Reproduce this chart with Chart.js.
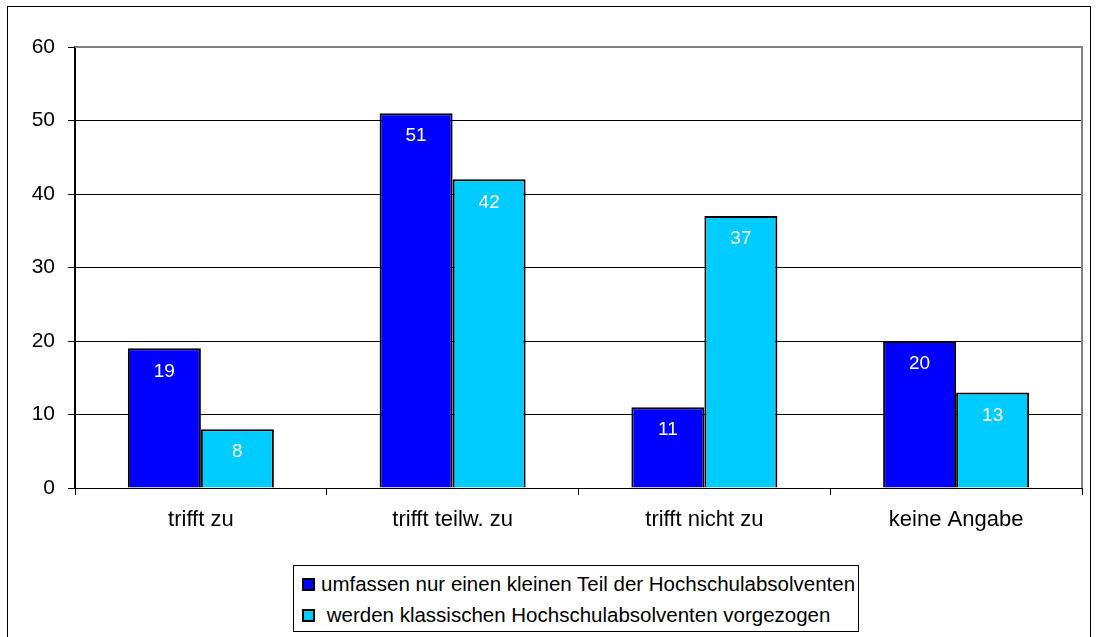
<!DOCTYPE html>
<html lang="de">
<head>
    <meta charset="UTF-8">
    <title>Hochschulabsolventen</title>
    <script src="https://cdn.jsdelivr.net/npm/chart.js"></script>
    <style>
        body {
            margin: 0;
            width: 1096px;
            height: 637px;
            overflow: hidden;
            background: #fff;
            font-family: "Liberation Sans", Arial, sans-serif;
        }
        .frame {
            position: absolute;
            left: 7px;
            top: 6px;
            width: 1082px;
            height: 700px;
            border: 1px solid #000;
        }
        #chart {
            position: absolute;
            left: 0;
            top: 0;
        }
        .legend {
            position: absolute;
            left: 293px;
            top: 565px;
            width: 564px;
            height: 65px;
            border: 1px solid #000;
            font-size: 20.5px;
            color: #000;
        }
        .legend div {
            position: absolute;
            left: 8px;
            white-space: pre;
            line-height: 24px;
        }
        .legend span.box {
            display: inline-block;
            width: 9px;
            height: 9px;
            border: 2px solid #000;
            margin-right: 6px;
            vertical-align: 0px;
        }
    </style>
</head>
<body>

<div class="frame"></div>
<canvas id="chart" width="1096" height="560"></canvas>
<div class="legend" id="legend"></div>

<script>
// data
const categories = ["trifft zu", "trifft teilw. zu", "trifft nicht zu", "keine Angabe"];
const seriesNames = ["umfassen nur einen kleinen Teil der Hochschulabsolventen", " werden klassischen Hochschulabsolventen vorgezogen"];
const seriesA = [19, 51, 11, 20];
const seriesB = [8, 42, 37, 13];
const yTicks = [0, 10, 20, 30, 40, 50, 60];

const colors = ["#0000FF", "#00CCFF"];
const fontFamily = '"Liberation Sans", Arial, sans-serif';

// white value labels inside the top of each bar
const barLabels = {
    id: 'barLabels',
    afterDatasetsDraw(chart) {
        const ctx = chart.ctx;
        ctx.save();
        ctx.fillStyle = '#fff';
        ctx.font = '19px ' + fontFamily;
        ctx.textAlign = 'center';
        ctx.textBaseline = 'middle';
        chart.data.datasets.forEach((ds, i) => {
            chart.getDatasetMeta(i).data.forEach((bar, j) => {
                ctx.fillText(ds.data[j], bar.x, bar.y + 23);
            });
        });
        ctx.restore();
    }
};

// grey top and right edge of the plot area
const plotEdge = {
    id: 'plotEdge',
    beforeDatasetsDraw(chart) {
        const a = chart.chartArea;
        const ctx = chart.ctx;
        ctx.save();
        ctx.strokeStyle = '#808080';
        ctx.lineWidth = 2;
        ctx.beginPath();
        ctx.moveTo(a.left, a.top);
        ctx.lineTo(a.right, a.top);
        ctx.lineTo(a.right, a.bottom);
        ctx.stroke();
        ctx.restore();
    }
};

const ctx = document.getElementById('chart').getContext('2d');
new Chart(ctx, {
    type: 'bar',
    data: {
        labels: categories,
        datasets: [
            { label: seriesNames[0], data: seriesA, backgroundColor: colors[0], borderColor: '#000', borderWidth: 2 },
            { label: seriesNames[1], data: seriesB, backgroundColor: colors[1], borderColor: '#000', borderWidth: 2 }
        ]
    },
    options: {
        responsive: false,
        animation: false,
        layout: { padding: { left: 0, top: 47, right: 14, bottom: 0 } },
        plugins: {
            legend: { display: false },
            tooltip: { enabled: false }
        },
        datasets: {
            bar: { categoryPercentage: 0.58, barPercentage: 1.0 }
        },
        scales: {
            x: {
                grid: { drawOnChartArea: false, drawTicks: true, tickLength: 7, color: '#000', offset: true },
                border: { color: '#000', width: 1 },
                ticks: { color: '#000', padding: 12, font: { size: 22, family: fontFamily } },
                afterFit(scale) { scale.height = 72; }
            },
            y: {
                min: 0,
                max: 60,
                afterBuildTicks(scale) { scale.ticks = yTicks.map(v => ({ value: v })); },
                grid: {
                    color: c => c.tick && c.tick.value === 60 ? '#808080' : '#000',
                    tickColor: '#000',
                    tickLength: 7,
                    lineWidth: 1
                },
                border: { color: '#000', width: 2 },
                ticks: { color: '#000', padding: 13, font: { size: 21, family: fontFamily } },
                afterFit(scale) { scale.width = 75; }
            }
        }
    },
    plugins: [plotEdge, barLabels]
});

// legend as text
const legend = document.getElementById('legend');
seriesNames.forEach((name, i) => {
    const row = document.createElement('div');
    row.style.top = (i === 0 ? 6 : 37) + 'px';
    const box = document.createElement('span');
    box.className = 'box';
    box.style.background = colors[i];
    row.appendChild(box);
    row.appendChild(document.createTextNode(name));
    legend.appendChild(row);
});
</script>
</body>
</html>
